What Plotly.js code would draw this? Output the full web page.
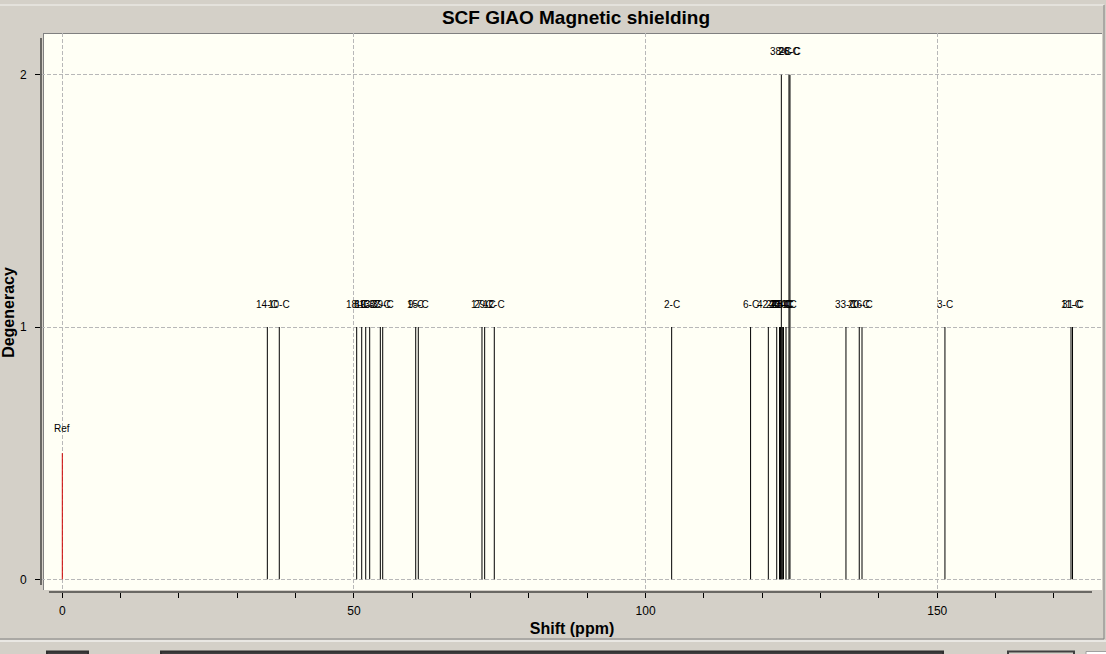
<!DOCTYPE html>
<html>
<head>
<meta charset="utf-8">
<script src="https://cdn.plot.ly/plotly-3.0.1.min.js"></script>
<style>html,body{margin:0;padding:0;background:#d4d0c8;}#chart{width:1106px;height:654px;}</style>
</head>
<body>
<div id="chart"></div>
<script>
// ---- data ----
const peakShift = [35.15, 37.2, 50.47, 51.33, 52.02, 52.7, 54.52, 54.93, 60.59, 61.03,
  71.95, 72.41, 74.06, 104.47, 118.0, 121.04, 122.48, 122.96, 123.13, 123.27, 123.44,
  123.64, 124.07, 124.58, 124.75, 134.35, 136.63, 137.1, 151.32, 172.93, 173.19];
const peakDegeneracy = [1, 1, 1, 1, 1, 1, 1, 1, 1, 1,
  1, 1, 1, 1, 1, 1, 1, 1, 1, 2, 1,
  1, 1, 2, 2, 1, 1, 1, 1, 1, 1];
const peakLabels = ["14-C", "10-C", "18-C", "8-C", "19-C", "13-C", "37-C", "39-C", "9-C", "15-C",
  "17-C", "29-C", "12-C", "2-C", "6-C", "42-C", "24-C", "22-C", "21-C", "38-C", "23-C",
  "25-C", "34-C", "26-C", "28-C", "33-C", "20-C", "16-C", "3-C", "11-C", "31-C"];
const refShift = [0];
const refHeight = [0.5];
const refLabels = ["Ref"];
const xTickVals = [0, 50, 100, 150];
const yTickVals = [0, 1, 2];

// ---- geometry helpers (page pixels -> paper coords) ----
const W = 1106, H = 654;
const L = 41, R = 1103, T = 33, B = 592;
const px = x => (x - L) / (R - L);
const py = y => (B - y) / (B - T);

function sticks(xs, ys) {
  const X = [], Y = [];
  xs.forEach((x, i) => { X.push(x, x, null); Y.push(0, ys[i], null); });
  return {X, Y};
}
const pk = sticks(peakShift, peakDegeneracy);
const rf = sticks(refShift, refHeight);

const traces = [
  {x: pk.X, y: pk.Y, type: 'scatter', mode: 'lines', line: {color: '#000000', width: 1}, hoverinfo: 'skip', showlegend: false},
  {x: rf.X, y: rf.Y, type: 'scatter', mode: 'lines', line: {color: '#d00000', width: 1}, hoverinfo: 'skip', showlegend: false}
];

const labelFont = {family: 'Liberation Sans, Arial, sans-serif', size: 10, color: '#000000'};
const annotations = [];
peakShift.forEach((x, i) => annotations.push({
  x: x, y: peakDegeneracy[i], xref: 'x', yref: 'y', text: peakLabels[i],
  showarrow: false, xanchor: 'center', yanchor: 'middle', yshift: 23, font: labelFont
}));
refShift.forEach((x, i) => annotations.push({
  x: x, y: refHeight[i], xref: 'x', yref: 'y', text: refLabels[i],
  showarrow: false, xanchor: 'center', yanchor: 'middle', yshift: 25, font: labelFont
}));

const shapes = [
  // cream plotting panel
  {type: 'rect', xref: 'paper', yref: 'paper', x0: px(43), x1: px(1102), y0: py(590), y1: py(33),
   fillcolor: '#fffff5', line: {width: 0}, layer: 'below'},
  {type: 'line', xref: 'paper', yref: 'paper', x0: px(43), x1: px(1102), y0: py(33.5), y1: py(33.5), line: {color: '#808080', width: 1}, layer: 'below'},
  {type: 'line', xref: 'paper', yref: 'paper', x0: px(43.5), x1: px(43.5), y0: py(590), y1: py(33), line: {color: '#808080', width: 1}, layer: 'below'},
  // axis lines
  {type: 'line', xref: 'paper', yref: 'paper', x0: px(41), x1: px(41), y0: py(38), y1: py(585), line: {color: '#000000', width: 1}},
  {type: 'line', xref: 'paper', yref: 'paper', x0: px(49), x1: px(1092), y0: py(592), y1: py(592), line: {color: '#000000', width: 1}},
  // window frame
  {type: 'line', xref: 'paper', yref: 'paper', x0: px(0), x1: px(1104), y0: py(5), y1: py(5), line: {color: '#f4f3f0', width: 1}},
  {type: 'line', xref: 'paper', yref: 'paper', x0: px(1104), x1: px(1104), y0: py(5), y1: py(639), line: {color: '#808080', width: 1}},
  {type: 'line', xref: 'paper', yref: 'paper', x0: px(0), x1: px(1104), y0: py(639), y1: py(639), line: {color: '#808080', width: 1}},
  {type: 'line', xref: 'paper', yref: 'paper', x0: px(0), x1: px(1106), y0: py(641), y1: py(641), line: {color: '#ffffff', width: 1}},
  // bottom controls (tops only visible)
  {type: 'rect', xref: 'paper', yref: 'paper', x0: px(47), x1: px(88), y0: py(670), y1: py(651.5), fillcolor: '#404040', line: {color: '#303030', width: 2}},
  {type: 'rect', xref: 'paper', yref: 'paper', x0: px(161), x1: px(943), y0: py(670), y1: py(651.5), fillcolor: '#404040', line: {color: '#303030', width: 2}},
  {type: 'rect', xref: 'paper', yref: 'paper', x0: px(1008), x1: px(1074), y0: py(670), y1: py(651.5), fillcolor: '#d4d0c8', line: {color: '#404040', width: 2}},
  {type: 'rect', xref: 'paper', yref: 'paper', x0: px(1086), x1: px(1110), y0: py(670), y1: py(651.5), fillcolor: '#ffffff', line: {color: '#a0a0a0', width: 1}}
];

const tickFont = {family: 'Liberation Sans, Arial, sans-serif', size: 12, color: '#000000'};
const layout = {
  width: W, height: H,
  margin: {l: L, r: W - R, t: T, b: H - B, pad: 0},
  paper_bgcolor: '#d4d0c8',
  plot_bgcolor: 'rgba(0,0,0,0)',
  title: {text: 'SCF GIAO Magnetic shielding', x: 576 / W, xref: 'container', xanchor: 'center',
    y: 1 - 17 / H, yref: 'container', yanchor: 'middle',
    font: {family: 'Liberation Sans, Arial, sans-serif', size: 19, color: '#000000', weight: 'bold'}},
  xaxis: {
    range: [-(62.3 - L) / 5.833, (R - 62.3) / 5.833],
    tickvals: xTickVals, ticktext: xTickVals.map(String),
    ticks: 'outside', ticklen: 5, tickcolor: '#000000', tickwidth: 1,
    minor: {dtick: 10, tick0: 0, ticks: 'outside', ticklen: 5, tickcolor: '#000000', showgrid: false},
    showline: false, zeroline: false,
    showgrid: true, gridcolor: '#b8b8b8', griddash: '4px,2px', gridwidth: 1,
    tickfont: tickFont, ticklabelstandoff: 3, automargin: false,
    title: {text: 'Shift (ppm)', standoff: 5, font: {family: 'Liberation Sans, Arial, sans-serif', size: 16, color: '#000000', weight: 'bold'}},
    fixedrange: true
  },
  yaxis: {
    range: [-(B - 579.3) / 252.3, 2 + (74.7 - T) / 252.3],
    tickvals: yTickVals, ticktext: yTickVals.map(String),
    ticks: 'outside', ticklen: 5, tickcolor: '#000000', tickwidth: 1,
    showline: false, zeroline: false,
    showgrid: true, gridcolor: '#b8b8b8', griddash: '4px,2px', gridwidth: 1,
    tickfont: tickFont, ticklabelstandoff: 6, automargin: false,
    title: {text: 'Degeneracy', standoff: 1, font: {family: 'Liberation Sans, Arial, sans-serif', size: 16, color: '#000000', weight: 'bold'}},
    fixedrange: true
  },
  shapes: shapes,
  annotations: annotations,
  showlegend: false,
  hovermode: false
};

Plotly.newPlot('chart', traces, layout, {displayModeBar: false, staticPlot: true});
</script>
</body>
</html>
